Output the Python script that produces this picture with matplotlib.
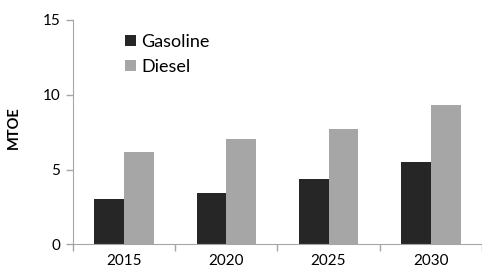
import matplotlib
matplotlib.use('Agg')
import matplotlib.pyplot as plt
import numpy as np

# data
years = ['2015', '2020', '2025', '2030']
gasoline = [3.0, 3.45, 4.4, 5.5]
diesel = [6.2, 7.05, 7.7, 9.3]

plt.rcParams['font.family'] = ['Lato', 'DejaVu Sans']

fig = plt.figure(figsize=(4.82, 2.70), dpi=100)
ax = fig.add_axes([0.151, 0.095, 0.849, 0.831])

x = np.arange(len(years))
w = 0.29
axis_col = '#a6a6a6'

ax.bar(x - w / 2, gasoline, w, color='#262626', label='Gasoline')
ax.bar(x + w / 2, diesel, w, color='#a6a6a6', label='Diesel')

ax.set_xlim(-0.5, len(years) - 0.5)
ax.set_ylim(0, 15)
ax.set_yticks([0, 5, 10, 15])

# x ticks sit between the categories, labels at the centres
ax.set_xticks(np.arange(len(years) + 1) - 0.5)
ax.set_xticklabels([])
ax.set_xticks(x, minor=True)
ax.set_xticklabels(years, minor=True)
ax.tick_params(axis='x', which='minor', length=0, labelsize=11, pad=7)
ax.tick_params(axis='x', which='major', length=5, color=axis_col, width=1)
ax.tick_params(axis='y', length=5, color=axis_col, width=1, labelsize=11, pad=4)

for s in ['top', 'right']:
    ax.spines[s].set_visible(False)
for s in ['left', 'bottom']:
    ax.spines[s].set_color(axis_col)

ax.set_ylabel('MTOE', fontweight='bold', fontsize=10.5)
ax.yaxis.set_label_coords(-0.128, 0.52)

ax.legend(loc='upper left', bbox_to_anchor=(0.11, 0.97), frameon=False,
          fontsize=13, handlelength=0.6, handleheight=0.6,
          handletextpad=0.3, labelspacing=0.5, borderaxespad=0)

plt.savefig('out.png', dpi=100)
